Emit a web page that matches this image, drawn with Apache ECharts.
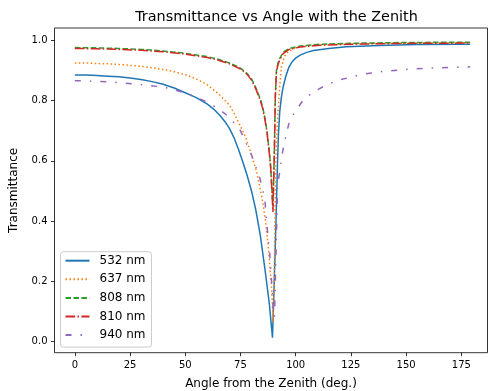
<!DOCTYPE html>
<html>
<head>
<meta charset="utf-8">
<script src="https://cdn.jsdelivr.net/npm/echarts@6/dist/echarts.min.js"></script>
<style>
  html, body { margin: 0; padding: 0; background: #fff; }
  #chart { width: 489px; height: 391px; }
</style>
</head>
<body>
<div id="chart"></div>
<script>
// Transmittance curves against the angle from the zenith (degrees)
const angles532 = [0,5,10,15,20,25,30,35,40,45,50,55,60,63,66,68,70,72,74,76,78,80,82,84,86,88,89.5,90.3,91,91.8,92.2,92.8,93.5,94.3,95.5,97,98.5,100,102,105,108,115,123,138,155,179];
const trans532  = [0.885,0.885,0.883,0.881,0.879,0.875,0.870,0.863,0.854,0.842,0.826,0.810,0.788,0.771,0.748,0.730,0.708,0.678,0.640,0.598,0.552,0.500,0.435,0.352,0.245,0.130,0.013,0.200,0.376,0.600,0.690,0.765,0.810,0.845,0.880,0.912,0.930,0.941,0.951,0.960,0.966,0.973,0.979,0.983,0.986,0.987];

const angles637 = [0,5,10,15,20,25,30,35,40,45,50,55,60,65,70,72.5,75,77.5,80,82.3,84,85.3,86.5,87.5,88.3,89.1,89.8,90.3,90.7,91.2,92,92.8,93.5,95,97,100,105,115,140,179];
const trans637  = [0.925,0.925,0.923,0.922,0.920,0.917,0.914,0.909,0.903,0.896,0.886,0.872,0.852,0.823,0.785,0.752,0.715,0.675,0.620,0.564,0.505,0.454,0.390,0.321,0.250,0.177,0.065,0.220,0.450,0.650,0.760,0.850,0.910,0.948,0.965,0.975,0.982,0.987,0.990,0.992];

const angles808 = [0,10,20,30,40,50,60,65,70,75,78,80,82,84,85,86,87,88,88.7,89.2,89.7,90.3,90.8,91.3,92,92.8,94.3,97,102,111,130,153,179];
const trans808  = [0.976,0.975,0.973,0.970,0.965,0.957,0.946,0.937,0.925,0.908,0.890,0.872,0.842,0.805,0.780,0.745,0.700,0.635,0.580,0.510,0.450,0.620,0.820,0.900,0.925,0.940,0.960,0.973,0.981,0.987,0.991,0.993,0.994];

const angles810 = angles808;
const trans810  = [0.973,0.972,0.970,0.967,0.962,0.954,0.943,0.934,0.922,0.905,0.887,0.868,0.838,0.800,0.775,0.740,0.695,0.630,0.575,0.505,0.430,0.610,0.815,0.895,0.920,0.935,0.956,0.970,0.978,0.984,0.988,0.990,0.991];

const angles940 = [0,10,20,30,40,45,50,55,60,65,70,75,80,83.8,86,86.8,88.3,89.1,89.8,90.4,91.3,91.8,92.8,93.6,94.5,95.8,97.3,100.4,103.4,108,114,118.5,130,141,153,164.5,179];
const trans940  = [0.866,0.864,0.860,0.853,0.845,0.836,0.825,0.811,0.795,0.773,0.745,0.700,0.620,0.542,0.476,0.400,0.288,0.199,0.110,0.080,0.354,0.520,0.564,0.608,0.647,0.690,0.735,0.770,0.802,0.829,0.852,0.866,0.887,0.898,0.905,0.909,0.912];

const seriesNames = ['532 nm', '637 nm', '808 nm', '810 nm', '940 nm'];
const xTicks = [0, 25, 50, 75, 100, 125, 150, 175];
const yTicks = [0, 0.2, 0.4, 0.6, 0.8, 1.0];

const FONT = 'DejaVu Sans';
const colors = ['#1f77b4', '#ff7f0e', '#2ca02c', '#d62728', '#9467bd'];
const dashes = ['solid', [1.5, 2.475], [5.55, 2.4], [9.6, 2.4, 1.5, 2.4], [6, 9, 1.5, 9]];

const pairs = (xs, ys) => xs.map((x, i) => [x, ys[i]]);
const curves = [
  pairs(angles532, trans532),
  pairs(angles637, trans637),
  pairs(angles808, trans808),
  pairs(angles810, trans810),
  pairs(angles940, trans940)
];

const chart = echarts.init(document.getElementById('chart'), null, { renderer: 'canvas' });

const tickStyle = { color: '#000', width: 0.8 };

chart.setOption({
  animation: false,
  backgroundColor: '#ffffff',
  title: {
    text: 'Transmittance vs Angle with the Zenith',
    left: 271.5,
    top: 5,
    textAlign: 'center',
    textStyle: { fontFamily: FONT, fontSize: 14.4, fontWeight: 'normal', color: '#000' }
  },
  grid: {
    left: 54.5, right: 1.5, top: 28, bottom: 38.3,
    containLabel: false,
    outerBoundsMode: 'none',
    show: true, borderColor: '#000', borderWidth: 0.8, backgroundColor: 'transparent'
  },
  legend: {
    orient: 'vertical',
    left: 60.5,
    top: 251.7,
    data: seriesNames,
    itemWidth: 24,
    itemHeight: 12,
    itemGap: 4.6,
    padding: [2, 6, 5, 4],
    backgroundColor: 'rgba(255,255,255,0.8)',
    borderColor: '#cccccc',
    borderWidth: 1,
    borderRadius: 3,
    itemStyle: { opacity: 0 },
    textStyle: { fontFamily: FONT, fontSize: 12, color: '#000', lineHeight: 14, padding: [0, 0, 0, 5] }
  },
  xAxis: {
    type: 'value',
    min: -9.2,
    max: 186.85,
    name: 'Angle from the Zenith (deg.)',
    nameLocation: 'middle',
    nameGap: 25,
    nameTextStyle: { fontFamily: FONT, fontSize: 12, color: '#000' },
    splitLine: { show: false },
    axisLine: { show: false, onZero: false },
    axisTick: { show: true, length: 3.5, lineStyle: tickStyle, customValues: xTicks },
    axisLabel: { fontFamily: FONT, fontSize: 10, color: '#000', margin: 8, customValues: xTicks,
                 formatter: v => String(v) }
  },
  yAxis: {
    type: 'value',
    min: -0.037,
    max: 1.041,
    name: 'Transmittance',
    nameLocation: 'middle',
    nameGap: 35,
    nameTextStyle: { fontFamily: FONT, fontSize: 12, color: '#000' },
    splitLine: { show: false },
    axisLine: { show: false, onZero: false },
    axisTick: { show: true, length: 3.5, lineStyle: tickStyle, customValues: yTicks },
    axisLabel: { fontFamily: FONT, fontSize: 10, color: '#000', margin: 7, customValues: yTicks,
                 formatter: v => v.toFixed(1) }
  },
  series: curves.map((data, i) => ({
    name: seriesNames[i],
    type: 'line',
    data: data,
    symbol: 'none',
    showSymbol: false,
    clip: true,
    z: 2 + i,
    lineStyle: { color: colors[i], width: 1.5, type: dashes[i] },
    itemStyle: { color: colors[i] }
  }))
});
</script>
</body>
</html>
